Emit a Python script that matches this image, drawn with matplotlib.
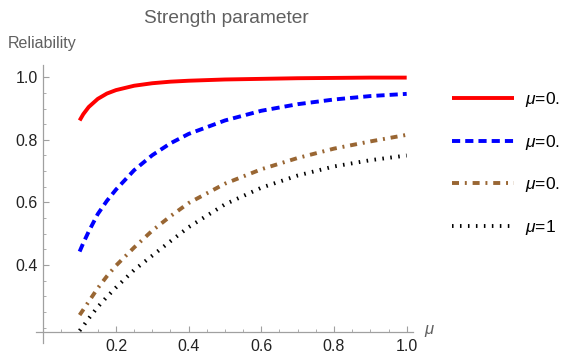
import matplotlib
matplotlib.use('Agg')
import matplotlib.pyplot as plt
from matplotlib.ticker import MultipleLocator, FixedLocator

plt.rcParams['font.family'] = ['Liberation Sans', 'DejaVu Sans']
plt.rcParams['mathtext.fontset'] = 'custom'
plt.rcParams['mathtext.it'] = 'Liberation Sans:italic'
plt.rcParams['mathtext.rm'] = 'Liberation Sans'

# strength parameter (x axis)
mu = [0.1, 0.11, 0.125, 0.15, 0.175, 0.2, 0.25, 0.3, 0.35, 0.4, 0.5, 0.6, 0.7, 0.8, 0.9, 1.0]

# reliability curves
rel_red = [0.862, 0.882, 0.905, 0.931, 0.948, 0.959, 0.973, 0.981, 0.986, 0.989,
           0.993, 0.995, 0.997, 0.998, 0.999, 0.999]
rel_blue = [0.443, 0.470, 0.507, 0.563, 0.605, 0.641, 0.703, 0.751, 0.789, 0.819,
            0.862, 0.893, 0.914, 0.929, 0.940, 0.947]
rel_brown = [0.240, 0.257, 0.283, 0.326, 0.364, 0.398, 0.456, 0.510, 0.556, 0.598,
             0.660, 0.706, 0.742, 0.772, 0.795, 0.816]
rel_black = [0.190, 0.205, 0.229, 0.266, 0.298, 0.328, 0.384, 0.430, 0.476, 0.521,
             0.594, 0.647, 0.686, 0.715, 0.735, 0.750]

labels = [r'$\mu$=0.', r'$\mu$=0.', r'$\mu$=0.', r'$\mu$=1']

AXIS_GRAY = '#a0a0a0'
TEXT_GRAY = '#606060'

fig = plt.figure(figsize=(5.61, 3.62), dpi=100)
ax = fig.add_axes([0.0642, 0.0528, 0.6724, 0.7674])

lw = 2.8
ax.plot(mu, rel_red, color='#ff0000', lw=lw, solid_capstyle='butt', label=labels[0])
ax.plot(mu, rel_blue, color='#0000ff', lw=lw, dashes=(2.1, 1.3),
        dash_capstyle='butt', label=labels[1])
ax.plot(mu, rel_brown, color='#996633', lw=lw, dashes=(1.8, 1.5, 0.5, 1.5),
        dash_capstyle='butt', label=labels[2])
ax.plot(mu, rel_black, color='black', lw=lw, dashes=(0.4, 1.65),
        dash_capstyle='butt', label=labels[3])

ax.set_xlim(-0.02, 1.018)
ax.set_ylim(0.151, 1.039)

# Mathematica style axes crossing at (0, 0.186)
for s in ['top', 'right']:
    ax.spines[s].set_visible(False)
ax.spines['left'].set_position(('data', 0))
ax.spines['bottom'].set_position(('data', 0.186))
for s in ['left', 'bottom']:
    ax.spines[s].set_color(AXIS_GRAY)
    ax.spines[s].set_linewidth(0.9)

ax.xaxis.set_major_locator(FixedLocator([0.2, 0.4, 0.6, 0.8, 1.0]))
ax.xaxis.set_minor_locator(MultipleLocator(0.05))
ax.yaxis.set_major_locator(FixedLocator([0.4, 0.6, 0.8, 1.0]))
ax.yaxis.set_minor_locator(FixedLocator([0.2, 0.25, 0.3, 0.35, 0.45, 0.5, 0.55, 0.65,
                                         0.7, 0.75, 0.85, 0.9, 0.95]))
ax.xaxis.set_major_formatter(plt.FuncFormatter(lambda v, p: f'{v:.1f}'))
ax.yaxis.set_major_formatter(plt.FuncFormatter(lambda v, p: f'{v:.1f}'))

ax.tick_params(which='major', direction='in', length=4, width=0.8,
               color=AXIS_GRAY, labelsize=11.5, labelcolor='#222222')
ax.tick_params(which='minor', direction='in', length=2.5, width=0.6, color=AXIS_GRAY)
ax.tick_params(axis='y', which='major', pad=4)
ax.tick_params(axis='x', which='major', pad=5)

fig.text(0.4029, 0.948, 'Strength parameter', fontsize=13.8, color=TEXT_GRAY,
         ha='center', va='center')
fig.text(0.014, 0.881, 'Reliability', fontsize=11.5, color=TEXT_GRAY,
         ha='left', va='center')
fig.text(0.755, 0.085, r'$\mu$', fontsize=12, color=TEXT_GRAY, ha='left', va='center')

ax.legend(loc='upper left', bbox_to_anchor=(0.8057, 0.751), bbox_transform=fig.transFigure,
          frameon=False, fontsize=12.5, handlelength=3.6, handletextpad=0.6,
          labelspacing=1.36, borderpad=0, borderaxespad=0)

plt.savefig('out.png', dpi=100)
plt.close()
